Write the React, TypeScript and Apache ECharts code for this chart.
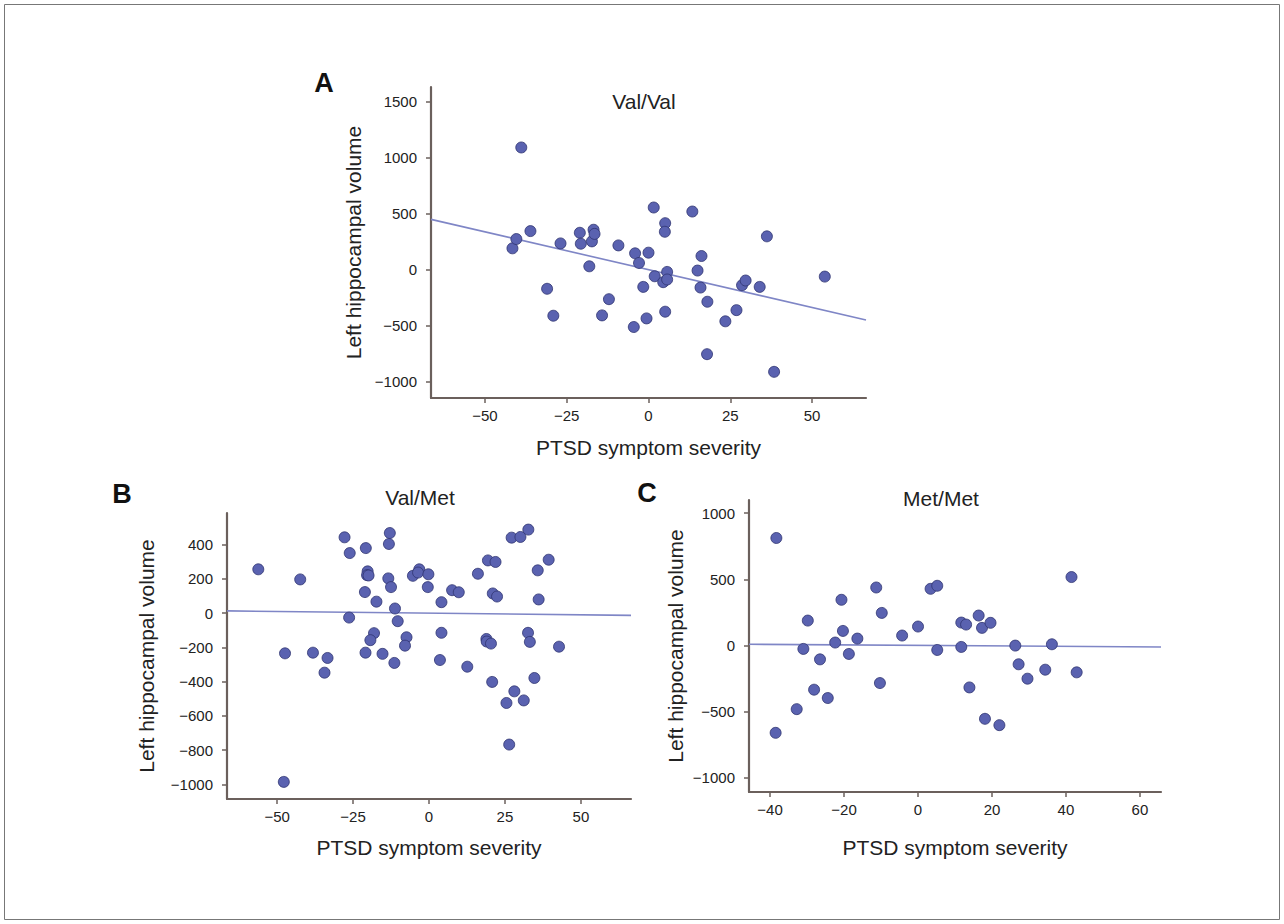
import React, { useEffect, useRef } from "react";
import * as echarts from "echarts";

// ---- data ----
const xTicksAB = [-50, -25, 0, 25, 50];
const xTicksC = [-40, -20, 0, 20, 40, 60];
const yTicksA = [-1000, -500, 0, 500, 1000, 1500];
const yTicksB = [-1000, -800, -600, -400, -200, 0, 200, 400];
const yTicksC = [-1000, -500, 0, 500, 1000];

const panelLetters = ["A", "B", "C"];
const panelTitles = ["Val/Val", "Val/Met", "Met/Met"];
const xName = "PTSD symptom severity";
const yName = "Left hippocampal volume";

const pointsA: number[][] = [
  [-38.9, 1093], [-41.6, 191], [-40.4, 274], [-36.1, 345], [-31.0, -171],
  [-29.1, -412], [-26.9, 235], [-21.0, 330], [-20.7, 232], [-17.3, 253],
  [-16.8, 357], [-16.5, 320], [-18.1, 30], [-12.1, -264], [-14.2, -409],
  [-9.2, 217], [-4.1, 146], [-2.9, 60], [-4.5, -513], [-1.6, -154],
  [0.0, 152], [-0.6, -436], [1.6, 556], [1.9, -59], [5.1, 416],
  [5.0, 339], [5.7, -20], [4.5, -112], [5.7, -88], [5.1, -376],
  [13.4, 520], [15.0, -8], [16.2, 122], [15.9, -160], [18.0, -287],
  [17.9, -756], [23.5, -462], [26.9, -362], [28.6, -139], [29.7, -97],
  [34.0, -154], [36.2, 298], [38.4, -914], [53.9, -62],
];
const fitA: number[][] = [[-66.5, 450], [66.5, -450]];

const pointsB: number[][] = [
  [-56.2, 256], [-47.4, -235], [-47.8, -986], [-42.4, 197], [-38.2, -231],
  [-34.4, -348], [-33.4, -262], [-27.8, 443], [-26.1, 351], [-26.3, -26],
  [-20.8, 380], [-20.2, 244], [-20.4, 222], [-19.9, 220], [-21.1, 123],
  [-17.3, 67], [-18.1, -117], [-19.3, -158], [-20.9, -231], [-15.3, -238],
  [-12.9, 468], [-13.2, 404], [-13.4, 203], [-12.5, 152], [-11.2, 27],
  [-10.3, -47], [-11.4, -291], [-7.4, -141], [-7.9, -190], [-5.3, 218],
  [-3.2, 256], [-3.6, 237], [-0.2, 227], [-0.4, 152], [4.1, 64],
  [4.1, -115], [3.6, -274], [7.6, 134], [9.8, 122], [12.6, -313],
  [16.1, 230], [19.4, 308], [21.9, 299], [21.0, 115], [22.4, 97],
  [18.9, -151], [19.0, -166], [20.4, -178], [20.8, -402], [25.5, -525],
  [28.1, -457], [27.2, 441], [30.1, 445], [32.7, 488], [31.2, -510],
  [26.4, -768], [32.6, -115], [33.2, -168], [34.7, -379], [35.8, 250],
  [36.1, 80], [39.4, 312], [42.8, -196],
];
const fitB: number[][] = [[-66.5, 13], [66.5, -13]];

const pointsC: number[][] = [
  [-38.3, 813], [-38.5, -659], [-32.8, -480], [-31.0, -25], [-29.8, 189],
  [-28.1, -333], [-26.5, -104], [-24.4, -396], [-22.4, 23], [-20.7, 346],
  [-20.3, 111], [-18.7, -63], [-16.4, 53], [-11.3, 439], [-9.8, 247],
  [-10.3, -283], [-4.3, 76], [0.0, 144], [3.4, 429], [5.2, 452],
  [5.2, -33], [11.7, 174], [13.0, 159], [11.7, -10], [16.4, 227],
  [17.3, 134], [19.6, 172], [13.9, -316], [18.1, -553], [22.0, -601],
  [26.3, 0], [27.2, -141], [29.6, -250], [34.4, -182], [36.2, 10],
  [41.5, 518], [42.9, -202],
];
const fitC: number[][] = [[-45.7, 10], [65.7, -10]];

// ---- styling ----
const FONT = "'Liberation Sans', Arial, Helvetica, sans-serif";
const AXIS_COLOR = "#6b605c";
const TEXT_COLOR = "#222222";
const DOT_FILL = "#5a62b0";
const DOT_BORDER = "#2f3470";
const FIT_COLOR = "#7f86c6";

const fmt = (v: number) => String(v).replace("-", "\u2212");

function xAxis(gridIndex: number, min: number, max: number, ticks: number[], nameGap: number) {
  return {
    type: "value",
    gridIndex,
    min,
    max,
    name: xName,
    nameLocation: "middle",
    nameGap,
    nameTextStyle: { fontSize: 21, color: TEXT_COLOR, fontFamily: FONT },
    axisLine: { show: true, onZero: false, lineStyle: { color: AXIS_COLOR, width: 2.2 } },
    axisTick: { show: true, length: 5, customValues: ticks, lineStyle: { color: AXIS_COLOR, width: 1.5 } },
    axisLabel: { customValues: ticks, fontSize: 15, color: TEXT_COLOR, fontFamily: FONT, margin: 10, formatter: fmt },
    splitLine: { show: false },
  };
}

function yAxis(gridIndex: number, min: number, max: number, ticks: number[], nameGap: number) {
  return {
    type: "value",
    gridIndex,
    min,
    max,
    name: yName,
    nameLocation: "middle",
    nameGap,
    nameTextStyle: { fontSize: 21, color: TEXT_COLOR, fontFamily: FONT },
    axisLine: { show: true, onZero: false, lineStyle: { color: AXIS_COLOR, width: 2.2 } },
    axisTick: { show: true, length: 5, customValues: ticks, lineStyle: { color: AXIS_COLOR, width: 1.5 } },
    axisLabel: { customValues: ticks, fontSize: 15, color: TEXT_COLOR, fontFamily: FONT, margin: 14, formatter: fmt },
    splitLine: { show: false },
  };
}

function scatter(i: number, data: number[][]) {
  return {
    type: "scatter",
    xAxisIndex: i,
    yAxisIndex: i,
    data,
    symbol: "circle",
    symbolSize: 11,
    itemStyle: { color: DOT_FILL, borderColor: DOT_BORDER, borderWidth: 0.8, opacity: 1 },
    z: 3,
  };
}

function fit(i: number, data: number[][]) {
  return {
    type: "line",
    xAxisIndex: i,
    yAxisIndex: i,
    data,
    symbol: "none",
    lineStyle: { color: FIT_COLOR, width: 1.6 },
    z: 2,
  };
}

function letter(text: string, x: number, y: number) {
  return {
    type: "text",
    x,
    y,
    style: {
      text,
      fill: "#111",
      font: "bold 27px 'Liberation Sans Narrow', 'Liberation Sans', Arial, sans-serif",
      align: "center",
      verticalAlign: "middle",
    },
  };
}

function title(text: string, x: number, y: number) {
  return {
    type: "text",
    x,
    y,
    style: {
      text,
      fill: TEXT_COLOR,
      font: `21px ${FONT}`,
      align: "center",
      verticalAlign: "middle",
    },
  };
}

export default function App() {
  const ref = useRef<HTMLDivElement>(null);
  useEffect(() => {
    if (!ref.current) return;
    const chart = echarts.init(ref.current, null, { renderer: "svg" });
    chart.setOption({
      animation: false,
      backgroundColor: "#ffffff",
      grid: [
        { left: 431, top: 87, width: 435, height: 311 },
        { left: 227, top: 513, width: 404, height: 286 },
        { left: 749, top: 500, width: 412, height: 292 },
      ],
      xAxis: [
        xAxis(0, -66.5, 66.5, xTicksAB, 39),
        xAxis(1, -66.5, 66.5, xTicksAB, 38),
        xAxis(2, -45.7, 65.7, xTicksC, 45),
      ],
      yAxis: [
        yAxis(0, -1148, 1634, yTicksA, 67),
        yAxis(1, -1086, 585, yTicksB, 70),
        yAxis(2, -1106, 1100, yTicksC, 63),
      ],
      series: [
        fit(0, fitA), scatter(0, pointsA),
        fit(1, fitB), scatter(1, pointsB),
        fit(2, fitC), scatter(2, pointsC),
      ],
      graphic: [
        {
          type: "rect",
          shape: { x: 4.5, y: 4.5, width: 1275, height: 915 },
          style: { fill: "none", stroke: "#777", lineWidth: 1 },
        },
        letter(panelLetters[0], 324, 83),
        letter(panelLetters[1], 122, 494),
        letter(panelLetters[2], 647, 493),
        title(panelTitles[0], 644, 101),
        title(panelTitles[1], 420, 497),
        title(panelTitles[2], 941, 498),
      ],
    });
    return () => chart.dispose();
  }, []);
  return (
    <div
      ref={ref}
      style={{ position: "fixed", left: 0, top: 0, width: 1284, height: 924, background: "#fff" }}
    />
  );
}
